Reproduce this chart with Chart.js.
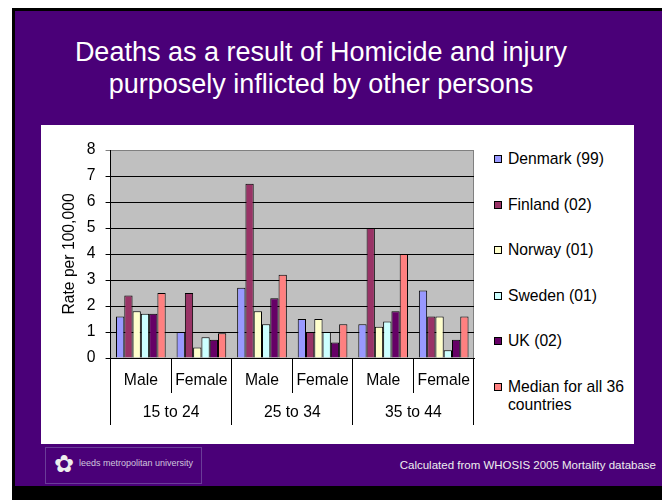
<!DOCTYPE html>
<html>
<head>
<meta charset="utf-8">
<script src="https://cdn.jsdelivr.net/npm/chart.js@4"></script>
<style>
  body { margin: 0; background: #fff; font-family: "Liberation Sans", Arial, sans-serif; }
  #frame { position: absolute; left: 12px; top: 8px; width: 700px; height: 492px; background: #000; overflow: hidden; }
  #slide { position: absolute; left: 15px; top: 11px; width: 700px; height: 475px; background: #4a0078; }
  #title { position: absolute; left: 0; top: 36px; width: 642px; text-align: center; color: #fff;
           font-size: 27px; line-height: 32px; }
  #panel { position: absolute; left: 41px; top: 125px; width: 593px; height: 319px; background: #fff; }
  #c { position: absolute; left: 0; top: 0; }
  #legend { position: absolute; left: 453px; top: 25px; width: 140px; }
  .item { position: relative; padding-left: 14px; font-size: 15.7px; line-height: 18px; height: 18px; margin-bottom: 27.6px; color: #000; width: 122px; }
  .item.two { height: 36px; }
  .sw { position: absolute; left: 0; top: 5px; width: 6px; height: 6px; border: 1px solid #000; }
  #logo { position: absolute; left: 45px; top: 447px; width: 155px; height: 35px; border: 1px solid #6a3c98; }
  #logo .flower { position: absolute; left: 8px; top: 2px; font-size: 24px; color: #eee; }
  #logo .name { position: absolute; left: 33px; top: 10px; font-size: 9px; color: #cfc6dd; }
  #source { position: absolute; right: 6px; top: 459px; font-size: 11.5px; color: #eee; white-space: nowrap; }
</style>
</head>
<body>
<div id="frame"></div>
<div id="slide"></div>
<div id="title">Deaths as a result of Homicide and injury<br>purposely inflicted by other persons</div>
<div id="panel">
  <canvas id="c" width="445" height="319"></canvas>
  <div id="legend"></div>
</div>
<div id="logo"><span class="flower">✿</span><span class="name">leeds metropolitan university</span></div>
<div id="source">Calculated from WHOSIS 2005 Mortality database</div>

<script>
// categories (inner = sex, outer = age group)
var sexLabels = ['Male', 'Female', 'Male', 'Female', 'Male', 'Female'];
var ageGroups = ['15 to 24', '25 to 34', '35 to 44'];

var yTicks = [0, 1, 2, 3, 4, 5, 6, 7, 8];

// rate per 100,000
var denmark = [1.6, 1.0, 2.7, 1.5, 1.3, 2.6];
var finland = [2.4, 2.5, 6.7, 1.0, 5.0, 1.6];
var norway  = [1.8, 0.4, 1.8, 1.5, 1.2, 1.6];
var sweden  = [1.7, 0.8, 1.3, 1.0, 1.4, 0.3];
var uk      = [1.7, 0.7, 2.3, 0.6, 1.8, 0.7];
var median  = [2.5, 0.95, 3.2, 1.3, 4.0, 1.6];

var seriesNames = ['Denmark (99)', 'Finland (02)', 'Norway (01)', 'Sweden (01)', 'UK (02)', 'Median for all 36 countries'];
var seriesData = [denmark, finland, norway, sweden, uk, median];
var seriesColors = ['#9999ff', '#993366', '#ffffcc', '#ccffff', '#660066', '#ff8080'];

var font = { family: '"Liberation Sans", Arial, sans-serif', size: 15.7 };

var datasets = [];
for (let i = 0; i < seriesNames.length; i++) {
  datasets.push({
    label: seriesNames[i],
    data: seriesData[i],
    backgroundColor: seriesColors[i],
    borderColor: '#000',
    borderWidth: 1,
    categoryPercentage: 0.82,
    barPercentage: 1.0
  });
}

// html legend, so the long label can wrap on two lines
var legend = document.getElementById('legend');
for (let i = 0; i < seriesNames.length; i++) {
  var item = document.createElement('div');
  item.className = 'item' + (seriesNames[i].length > 20 ? ' two' : '');
  item.innerHTML = '<span class="sw" style="background:' + seriesColors[i] + '"></span>' + seriesNames[i];
  legend.appendChild(item);
}

// grey plot area with the darker top/right edge
var plotBackground = {
  id: 'plotBackground',
  beforeDraw: function(chart) {
    var a = chart.chartArea;
    var ctx = chart.ctx;
    ctx.save();
    ctx.fillStyle = '#c0c0c0';
    ctx.fillRect(a.left, a.top, a.right - a.left, a.bottom - a.top);
    ctx.strokeStyle = '#808080';
    ctx.lineWidth = 1;
    ctx.beginPath();
    ctx.moveTo(a.left, a.top + 0.5);
    ctx.lineTo(a.right - 0.5, a.top + 0.5);
    ctx.lineTo(a.right - 0.5, a.bottom);
    ctx.stroke();
    ctx.restore();
  }
};

var chart = new Chart(document.getElementById('c').getContext('2d'), {
  type: 'bar',
  data: { labels: sexLabels, datasets: datasets },
  plugins: [plotBackground],
  options: {
    responsive: false,
    animation: false,
    layout: { padding: { left: 19, right: 12, top: 25, bottom: 11 } },
    plugins: { legend: { display: false }, tooltip: { enabled: false } },
    scales: {
      x: {
        offset: true,
        grid: { offset: true, drawOnChartArea: false, color: '#000', tickLength: 35 },
        border: { color: '#000' },
        ticks: { color: '#000', font: font, padding: -22, maxRotation: 0, autoSkip: false },
        afterFit: function(scale) { scale.height = 35; }
      },
      x2: {
        type: 'category',
        position: 'bottom',
        weight: 1,
        labels: ageGroups,
        offset: true,
        grid: { offset: true, drawOnChartArea: false, color: '#000', tickLength: 32 },
        border: { display: false },
        ticks: { color: '#000', font: font, padding: -22, maxRotation: 0, autoSkip: false },
        afterFit: function(scale) { scale.height = 40; }
      },
      y: {
        min: 0,
        max: 8,
        afterBuildTicks: function(scale) {
          scale.ticks = yTicks.map(function(v) { return { value: v }; });
        },
        grid: {
          color: function(ctx) { return ctx.tick && ctx.tick.value === 8 ? '#808080' : '#000'; },
          tickLength: 5
        },
        border: { color: '#000' },
        ticks: { color: '#000', font: font, padding: 10 },
        title: { display: true, text: 'Rate per 100,000', color: '#000', font: font, padding: { top: 0, bottom: -2 } }
      }
    }
  }
});
</script>
</body>
</html>
